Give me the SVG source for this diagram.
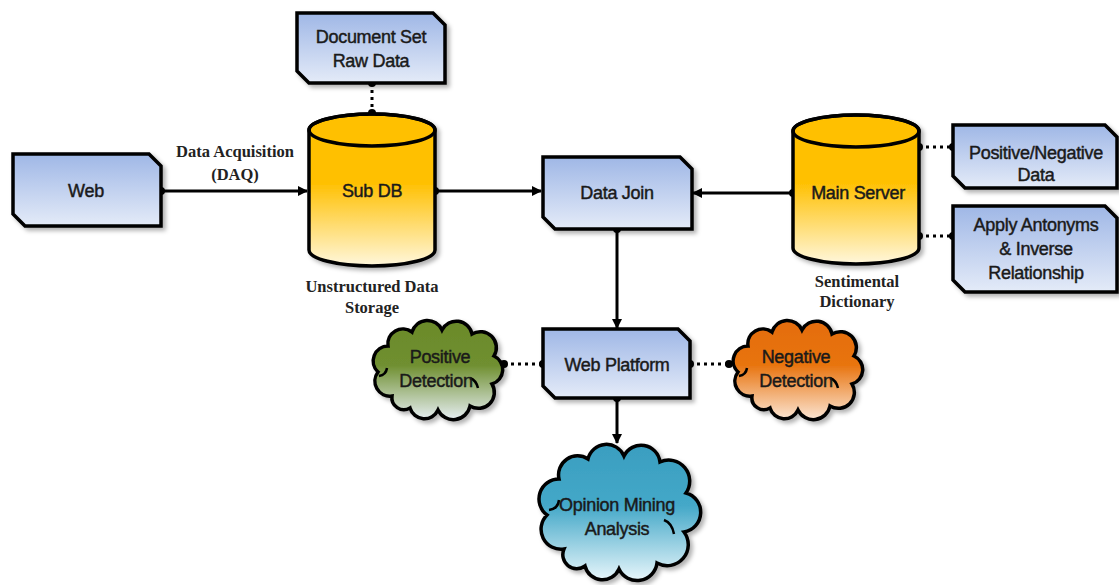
<svg xmlns="http://www.w3.org/2000/svg" xmlns:xlink="http://www.w3.org/1999/xlink" width="1119" height="585" viewBox="0 0 1119 585">
<style>
.box{stroke:#000;stroke-width:3.5;fill:url(#gBlue);filter:url(#sh)}
.cyl{stroke:#000;stroke-width:3.5;fill:url(#gGold)}
.cloud{stroke:#000;stroke-width:3.5;filter:url(#sh)}
.t{font-family:"Liberation Sans",Arial,sans-serif;font-size:18px;fill:#1a1a1a;text-anchor:middle;stroke:#1a1a1a;stroke-width:0.45;letter-spacing:-0.3px}
.lbl{font-family:"Liberation Serif","Times New Roman",serif;font-size:16.5px;font-weight:bold;fill:#222;text-anchor:middle}
.ln{stroke:#000;stroke-width:3;fill:none}
.curl{stroke:#000;stroke-width:2.5;fill:none}
.dot{stroke:#000;stroke-width:3;stroke-dasharray:3 4;fill:none}
.ep{fill:#000}
</style>
<defs>
<linearGradient id="gBlue" x1="0" y1="0" x2="0" y2="1"><stop offset="0" stop-color="#9fb7e6"/><stop offset="1" stop-color="#e4ebf8"/></linearGradient>
<linearGradient id="gGold" x1="0" y1="0" x2="0" y2="1"><stop offset="0" stop-color="#ffc000"/><stop offset="0.45" stop-color="#ffc000"/><stop offset="1" stop-color="#fff7dc"/></linearGradient>
<linearGradient id="gGreen" x1="0" y1="0" x2="0" y2="1"><stop offset="0" stop-color="#6b8a2a"/><stop offset="0.45" stop-color="#6f8f30"/><stop offset="1" stop-color="#e6eef2"/></linearGradient>
<linearGradient id="gOrange" x1="0" y1="0" x2="0" y2="1"><stop offset="0" stop-color="#e46c0a"/><stop offset="0.45" stop-color="#e8740f"/><stop offset="1" stop-color="#fbe5d3"/></linearGradient>
<linearGradient id="gTeal" x1="0" y1="0" x2="0" y2="1"><stop offset="0" stop-color="#3a9ec0"/><stop offset="0.45" stop-color="#44a8c8"/><stop offset="1" stop-color="#e8f6fb"/></linearGradient>
<filter id="sh" x="-10%" y="-10%" width="125%" height="130%"><feDropShadow dx="3" dy="3" stdDeviation="2" flood-color="#000" flood-opacity="0.3"/></filter>
<marker id="arr" markerWidth="10" markerHeight="10" refX="9" refY="5" orient="auto" markerUnits="userSpaceOnUse"><path d="M0,0 L10,5 L0,10 Z" fill="#000"/></marker>
<path id="cloudS" d="M24,76 A15,15 0 0 1 10,52 A15,15 0 0 1 20,26 A15,15 0 0 1 44,12 A16,16 0 0 1 74,10 A16,16 0 0 1 104,14 A16,16 0 0 1 126,36 A15,15 0 0 1 124,64 A16,16 0 0 1 102,86 A17,17 0 0 1 70,90 A15,15 0 0 1 42,88 A12,12 0 0 1 24,76 Z"/>
</defs>
<rect width="1119" height="585" fill="#fff"/>

<g id="connectors">
<line class="ln" x1="161" y1="191" x2="307" y2="191" marker-end="url(#arr)"/>
<circle class="ep" cx="161" cy="191" r="4"/>
<line class="ln" x1="435" y1="191" x2="541" y2="191" marker-end="url(#arr)"/>
<circle class="ep" cx="435" cy="191" r="4"/>
<line class="ln" x1="793" y1="193" x2="693" y2="193" marker-end="url(#arr)"/>
<circle class="ep" cx="793" cy="193" r="4"/>
<line class="ln" x1="617" y1="229" x2="617" y2="328" marker-end="url(#arr)"/>
<circle class="ep" cx="617" cy="229" r="4"/>
<line class="ln" x1="617" y1="398" x2="617" y2="443" marker-end="url(#arr)"/>
<circle class="ep" cx="617" cy="398" r="4"/>
<line class="dot" x1="372" y1="83" x2="372" y2="113"/>
<circle class="ep" cx="372" cy="83" r="4"/><circle class="ep" cx="372" cy="113" r="4"/>
<line class="dot" x1="919" y1="147" x2="953" y2="147"/>
<circle class="ep" cx="919" cy="147" r="4"/><circle class="ep" cx="953" cy="147" r="4"/>
<line class="dot" x1="919" y1="236" x2="953" y2="236"/>
<circle class="ep" cx="919" cy="236" r="4"/><circle class="ep" cx="953" cy="236" r="4"/>
<line class="dot" x1="504" y1="364" x2="543" y2="364"/>
<circle class="ep" cx="504" cy="364" r="4"/><circle class="ep" cx="543" cy="364" r="4"/>
<line class="dot" x1="690" y1="364" x2="729" y2="364"/>
<circle class="ep" cx="690" cy="364" r="4"/><circle class="ep" cx="729" cy="364" r="4"/>
<text class="lbl" x="235" y="157">Data Acquisition</text>
<text class="lbl" x="235" y="180">(DAQ)</text>
</g>

<g id="web">
<path class="box" d="M13,154 H149 L161,166 V226 H25 L13,214 Z"/>
<text class="t" x="86" y="197">Web</text>
</g>

<g id="docset">
<path class="box" d="M297,13 H433 L445,25 V83 H309 L297,71 Z"/>
<text class="t" x="371" y="43">Document Set</text>
<text class="t" x="371" y="67">Raw Data</text>
</g>

<g id="subdb">
<g filter="url(#sh)">
<path class="cyl" d="M309,130 A63,16 0 0 1 435,130 V250 A63,16 0 0 1 309,250 Z"/>
<ellipse cx="372" cy="130" rx="63" ry="16" fill="none" stroke="#000" stroke-width="3.5"/>
</g>
<text class="t" x="372" y="197">Sub DB</text>
<text class="lbl" x="372" y="292">Unstructured Data</text>
<text class="lbl" x="372" y="313">Storage</text>
</g>

<g id="datajoin">
<path class="box" d="M543,157 H680 L692,169 V229 H555 L543,217 Z"/>
<text class="t" x="617" y="199">Data Join</text>
</g>

<g id="mainserver">
<g filter="url(#sh)">
<path class="cyl" d="M793,131 A63,16 0 0 1 919,131 V248 A63,16 0 0 1 793,248 Z"/>
<ellipse cx="856" cy="131" rx="63" ry="16" fill="none" stroke="#000" stroke-width="3.5"/>
</g>
<text class="t" x="858" y="199">Main Server</text>
<text class="lbl" x="857" y="287">Sentimental</text>
<text class="lbl" x="857" y="307">Dictionary</text>
</g>

<g id="posneg">
<path class="box" d="M953,125 H1105 L1117,137 V188 H965 L953,176 Z"/>
<text class="t" x="1036" y="159">Positive/Negative</text>
<text class="t" x="1036" y="181">Data</text>
</g>

<g id="antonyms">
<path class="box" d="M953,206 H1105 L1117,218 V292 H965 L953,280 Z"/>
<text class="t" x="1036" y="231">Apply Antonyms</text>
<text class="t" x="1036" y="255">&amp; Inverse</text>
<text class="t" x="1036" y="279">Relationship</text>
</g>

<g id="webplatform">
<path class="box" d="M543,329 H678 L690,341 V398 H555 L543,386 Z"/>
<text class="t" x="617" y="371">Web Platform</text>
</g>

<g id="positive">
<use href="#cloudS" class="cloud" fill="url(#gGreen)" transform="translate(368,320)"/>
<path class="curl" d="M379,376 q7,-1 8,-8"/>
<path class="curl" d="M470,378 q6,2 8,10"/>
<text class="t" x="440" y="363">Positive</text>
<text class="t" x="436" y="387">Detection</text>
</g>

<g id="negative">
<use href="#cloudS" class="cloud" fill="url(#gOrange)" transform="translate(728,320)"/>
<path class="curl" d="M739,376 q7,-1 8,-8"/>
<path class="curl" d="M830,378 q6,2 8,10"/>
<text class="t" x="796" y="363">Negative</text>
<text class="t" x="796" y="387">Detection</text>
</g>

<g id="opinion">
<path class="cloud" fill="url(#gTeal)" d="M564,549 A20,20 0 0 1 547,515 A20,20 0 0 1 559,479 A19,19 0 0 1 588,459 A19,19 0 0 1 624,456 A19,19 0 0 1 660,462 A21,21 0 0 1 686,493 A20,20 0 0 1 684,532 A21,21 0 0 1 657,563 A20,20 0 0 1 619,569 A18,18 0 0 1 585,566 A14,14 0 0 1 564,549 Z"/>
<path class="curl" d="M549,510 q9,-1 10,-10"/>
<path class="curl" d="M664,520 q8,3 10,14"/>
<text class="t" x="617" y="511">Opinion Mining</text>
<text class="t" x="617" y="535">Analysis</text>
</g>
</svg>
